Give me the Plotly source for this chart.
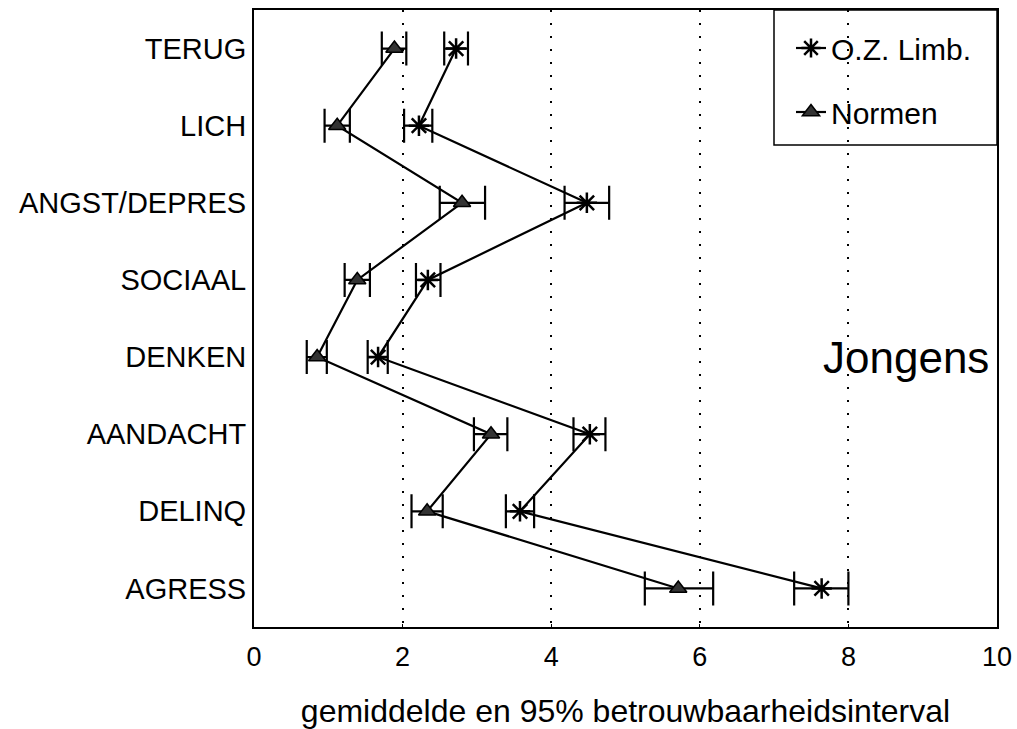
import plotly.graph_objects as go

categories = ["TERUG", "LICH", "ANGST/DEPRES", "SOCIAAL", "DENKEN", "AANDACHT", "DELINQ", "AGRESS"]

oz_mean = [2.72, 2.22, 4.48, 2.34, 1.67, 4.52, 3.58, 7.64]
oz_low = [2.56, 2.02, 4.18, 2.18, 1.53, 4.30, 3.39, 7.27]
oz_high = [2.88, 2.40, 4.78, 2.51, 1.80, 4.73, 3.77, 8.00]

norm_mean = [1.89, 1.12, 2.80, 1.39, 0.85, 3.19, 2.33, 5.71]
norm_low = [1.72, 0.95, 2.50, 1.22, 0.71, 2.96, 2.12, 5.26]
norm_high = [2.05, 1.29, 3.11, 1.56, 0.98, 3.41, 2.54, 6.18]

x_ticks = [0, 2, 4, 6, 8, 10]

FONT = "Liberation Sans, Arial, Helvetica, sans-serif"

def err(mean, low, high):
    return dict(type="data", symmetric=False,
                array=[h - m for m, h in zip(mean, high)],
                arrayminus=[m - l for m, l in zip(mean, low)],
                color="black", thickness=2.2, width=17)

fig = go.Figure()
fig.add_trace(go.Scatter(
    x=oz_mean, y=categories, mode="lines+markers", name="O.Z. Limb.", legendgroup="a",
    line=dict(color="black", width=2.2),
    marker=dict(symbol="asterisk-open", size=17, color="black", line=dict(width=2.5, color="black")),
    error_x=err(oz_mean, oz_low, oz_high),
))
fig.add_trace(go.Scatter(
    x=norm_mean, y=categories, mode="lines+markers", name="Normen", legendgroup="b",
    line=dict(color="black", width=2.2),
    marker=dict(symbol="triangle-up", size=15, color="#333333", line=dict(width=1.5, color="black")),
    error_x=err(norm_mean, norm_low, norm_high),
))

# body margin removed via post_script; screen plot area: x 254..997, y 10..627
W, H = 1017, 729
ml, mt = 254, 10
mr = W - 997
mb = H - 627
pw = W - ml - mr
ph = H - mt - mb

def px(sx):
    return (sx - ml) / pw

def py(sy):
    return 1 - (sy - mt) / ph

# legend frame
fig.add_shape(type="rect", xref="paper", yref="paper",
              x0=px(774), x1=1.0, y0=py(145), y1=1.0,
              line=dict(color="black", width=1.5), fillcolor="white", layer="below")

fig.add_annotation(text="Jongens", xref="paper", yref="y", x=px(991), y="DENKEN",
                   xanchor="right", yanchor="middle", showarrow=False,
                   font=dict(family=FONT, size=44, color="black"))

fig.update_layout(
    width=W, height=H,
    margin=dict(l=ml, r=mr, t=mt, b=mb, autoexpand=False),
    paper_bgcolor="white", plot_bgcolor="rgba(0,0,0,0)",
    font=dict(family=FONT, color="black"),
    showlegend=True,
    legend=dict(x=px(791), y=py(22), xanchor="left", yanchor="top",
                bgcolor="rgba(0,0,0,0)", borderwidth=0,
                font=dict(family=FONT, size=30, color="black"),
                tracegroupgap=22, itemwidth=30),
    xaxis=dict(range=[0, 10], tickvals=x_ticks, ticktext=[str(v) for v in x_ticks],
               automargin=True, ticklabeloverflow="allow",
               showgrid=True, gridcolor="black", gridwidth=2.2, griddash="2px,11px",
               zeroline=False, showline=True, linecolor="black", linewidth=2, mirror=True,
               ticks="inside", ticklen=3, tickcolor="black",
               tickfont=dict(family=FONT, size=27, color="black"),
               ticklabelstandoff=5,
               title=dict(text="gemiddelde en 95% betrouwbaarheidsinterval",
                          font=dict(family=FONT, size=32, color="black"), standoff=34)),
    yaxis=dict(type="category", categoryorder="array", categoryarray=categories,
               automargin=False,
               range=[7.5, -0.5], showgrid=False, zeroline=False,
               showline=True, linecolor="black", linewidth=2, mirror=True,
               ticks="", tickfont=dict(family=FONT, size=29, color="black"),
               ticklabelstandoff=0),
)

fig.write_html(
    "out.html",
    config={"displayModeBar": False},
    post_script="document.body.style.margin='0';document.body.style.overflow='hidden';",
)
